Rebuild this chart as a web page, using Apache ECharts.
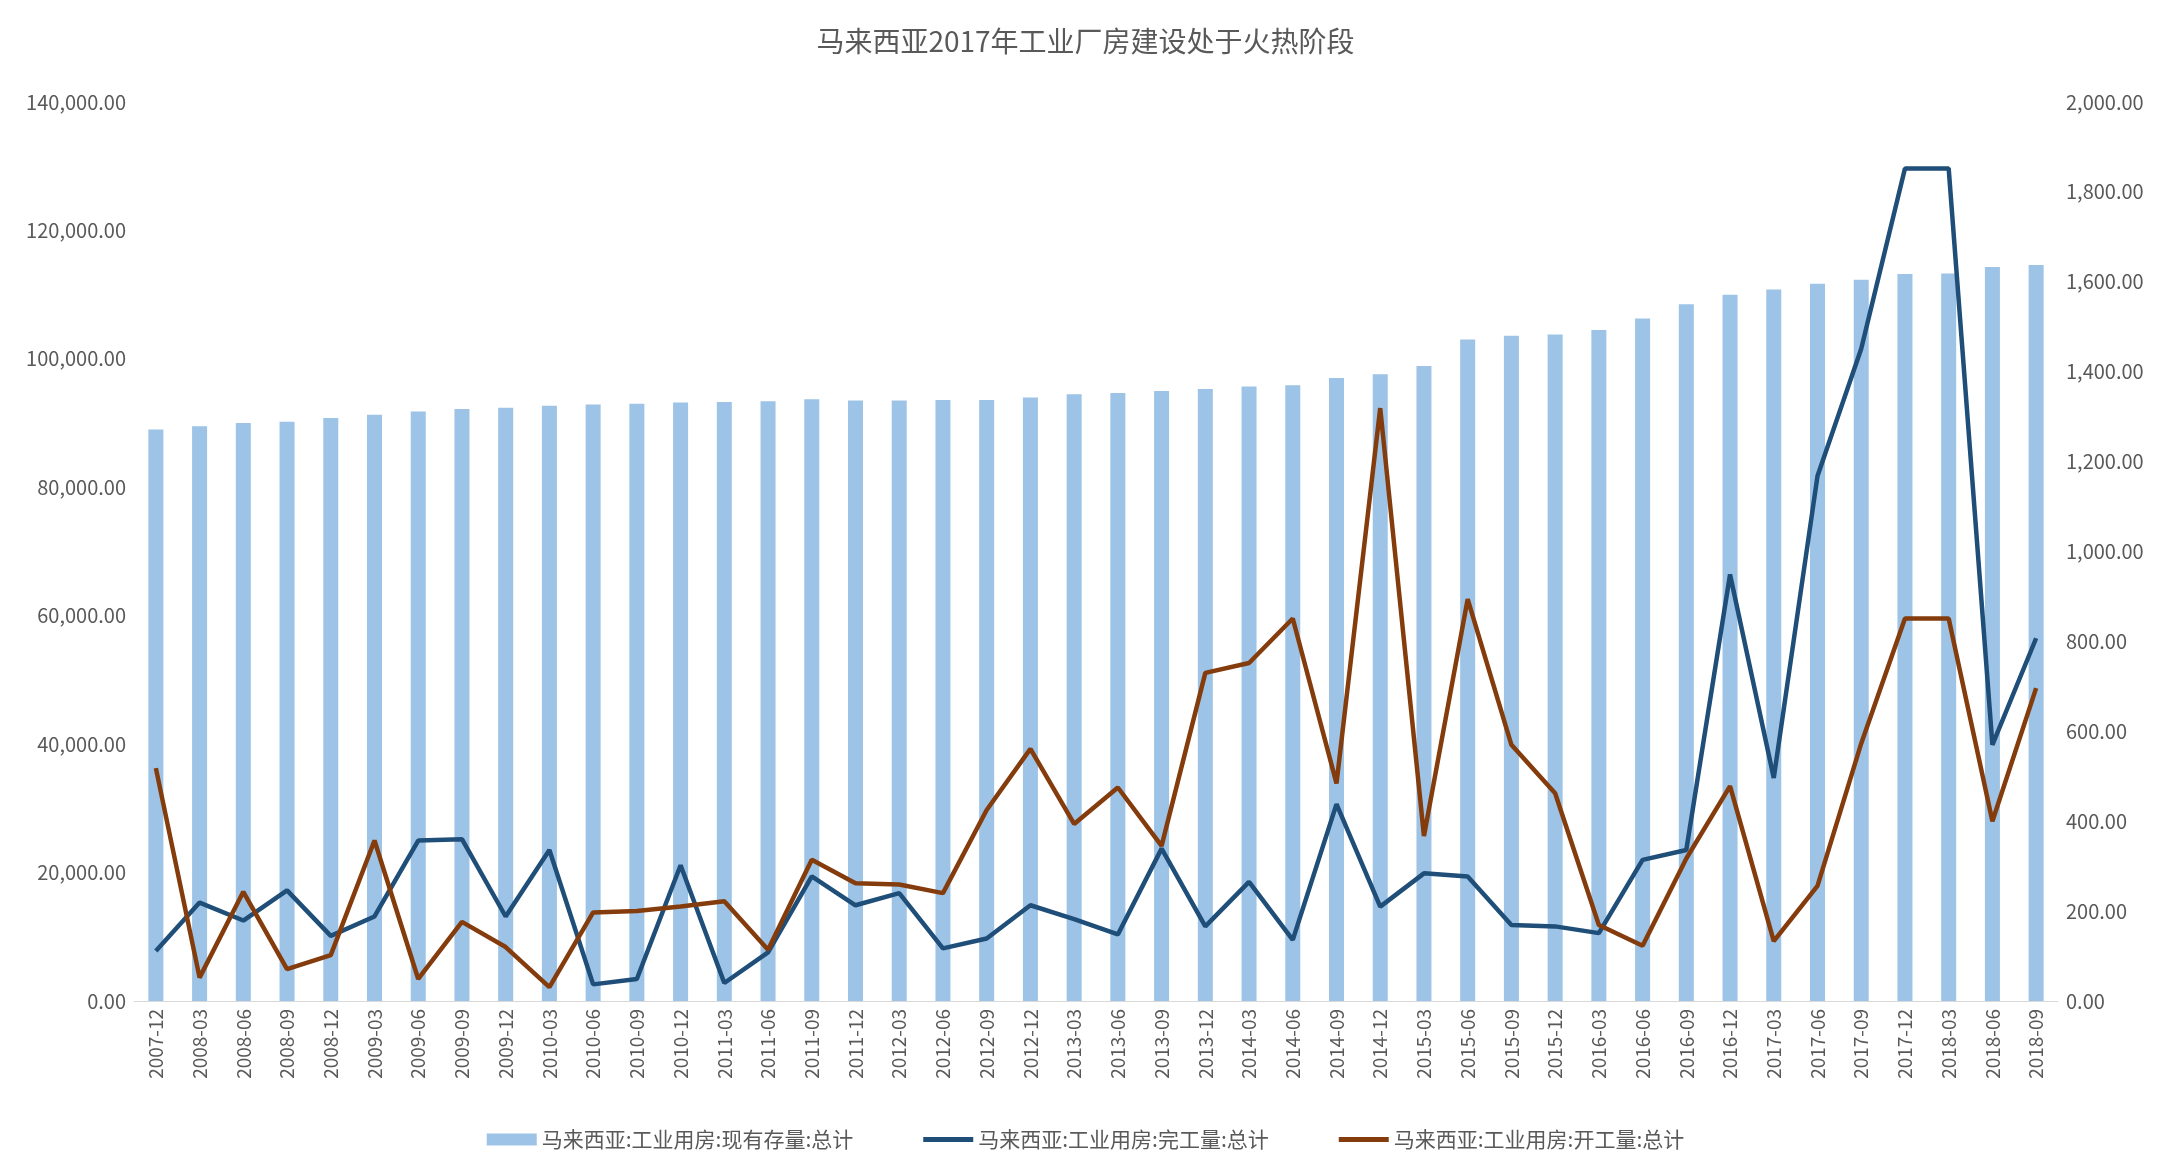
<!DOCTYPE html><html><head><meta charset="utf-8"><script src="https://cdn.jsdelivr.net/npm/echarts@6/dist/echarts.min.js"></script>
<style>html,body{margin:0;background:#fff}#c{width:2171px;height:1169px}</style></head><body><div id="c"></div><script>
const categories=[];for(let y=2007;y<=2018;y++)for(const m of ['03','06','09','12']){const s=y+'-'+m;if(s>='2007-12'&&s<='2018-09')categories.push(s);}
const stock=[89000,89500,90000,90200,90800,91300,91800,92200,92400,92700,92900,93000,93200,93300,93400,93700,93500,93500,93600,93600,94000,94500,94700,95000,95300,95700,95900,97000,97600,98900,103000,103600,103800,104500,106300,108500,110000,110800,111700,112300,113200,113300,114300,114600];
const completed=[111,219,179,246,145,188,357,360,188,336,37,49,302,40,108,277,213,240,117,139,213,182,148,339,166,265,136,438,210,284,277,169,166,151,314,336,949,496,1168,1451,1852,1852,570,807];
const started=[518,52,243,71,102,357,49,176,120,31,197,200,210,222,114,314,262,259,240,425,561,394,475,345,730,752,851,484,1319,367,894,570,462,169,123,317,478,133,256,573,851,851,400,696];
const F='"Noto Sans CJK SC","Noto Sans",sans-serif';
const fmt=v=>v.toLocaleString('en-US',{minimumFractionDigits:2,maximumFractionDigits:2});
const lineIcon='path://M0,0 H50 V5 H0 Z';
const ch=echarts.init(document.getElementById('c'));
ch.setOption({animation:false,
title:{text:'马来西亚2017年工业厂房建设处于火热阶段',left:'center',top:22,textStyle:{fontFamily:F,fontSize:28,fontWeight:'normal',color:'#595959'}},
grid:{left:134,right:113,top:102,bottom:168},
legend:{bottom:14,itemGap:70,itemWidth:50,itemHeight:12,textStyle:{fontFamily:F,fontSize:21,color:'#595959'},
 data:[{name:'马来西亚:工业用房:现有存量:总计',icon:'rect'},{name:'马来西亚:工业用房:完工量:总计',icon:lineIcon},{name:'马来西亚:工业用房:开工量:总计',icon:lineIcon}]},
xAxis:{type:'category',data:categories,axisTick:{show:false},axisLine:{lineStyle:{color:'#d9d9d9'}},
 axisLabel:{rotate:90,interval:0,fontFamily:F,fontSize:19,color:'#595959'}},
yAxis:[{type:'value',min:0,max:140000,interval:20000,splitLine:{show:false},axisLabel:{formatter:fmt,fontFamily:F,fontSize:20,color:'#595959'}},
 {type:'value',min:0,max:2000,interval:200,splitLine:{show:false},axisLabel:{formatter:fmt,fontFamily:F,fontSize:20,color:'#595959'}}],
series:[{name:'马来西亚:工业用房:现有存量:总计',type:'bar',data:stock,barWidth:15,itemStyle:{color:'#9dc3e6'}},
{name:'马来西亚:工业用房:完工量:总计',type:'line',yAxisIndex:1,data:completed,symbol:'none',lineStyle:{width:4.5,color:'#1f4e79'},itemStyle:{color:'#1f4e79'}},
{name:'马来西亚:工业用房:开工量:总计',type:'line',yAxisIndex:1,data:started,symbol:'none',lineStyle:{width:4.5,color:'#843c0c'},itemStyle:{color:'#843c0c'}}]});
</script></body></html>
